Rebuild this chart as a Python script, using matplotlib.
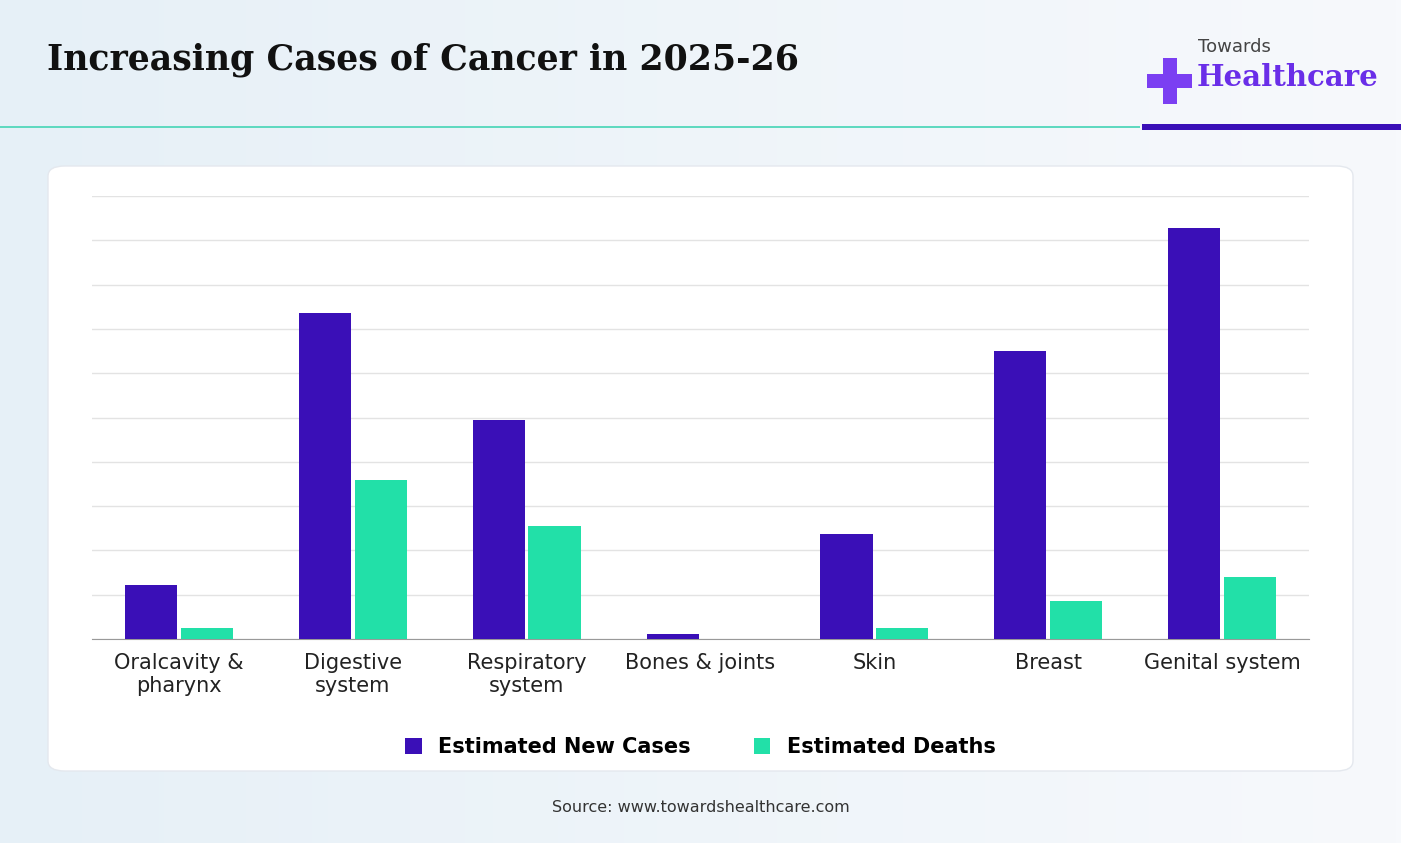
import numpy as np
import matplotlib.pyplot as plt
from matplotlib.patches import FancyBboxPatch, Rectangle

categories = ["Oralcavity &\npharynx", "Digestive\nsystem", "Respiratory\nsystem",
              "Bones & joints", "Skin", "Breast", "Genital system"]
new_cases = [61000, 368000, 247000, 5500, 118500, 325000, 464000]
deaths = [12500, 179500, 127500, 0, 12500, 43000, 70000]

purple = "#3a0fb7"
teal = "#22e0a8"

fig = plt.figure(figsize=(14.01, 8.43), dpi=100)
W, H = 1401, 843

# background
bg = fig.add_axes([0, 0, 1, 1], zorder=-2)
grad = np.linspace(0, 1, 256).reshape(1, -1)
bg.imshow(grad, extent=[0, 1, 0, 1], aspect="auto",
          cmap=plt.matplotlib.colors.LinearSegmentedColormap.from_list("g", ["#e6f0f7", "#f7f9fc"]))
bg.set_xlim(0, 1); bg.set_ylim(0, 1); bg.axis("off")
bg.add_patch(FancyBboxPatch((48 / W, 1 - 771 / H), 1305 / W, 605 / H,
                            boxstyle="round,pad=0,rounding_size=0.012",
                            fc="white", ec="#e4e8ee", lw=1))
bg.add_patch(Rectangle((0, 1 - 128 / H), 1140 / W, 1.5 / H, fc="#5fd9c0", ec="none"))
bg.add_patch(Rectangle((1142 / W, 1 - 130 / H), 259 / W, 6 / H, fc=purple, ec="none"))

fig.text(47 / W, 1 - 60 / H, "Increasing Cases of Cancer in 2025-26", fontsize=25,
         fontweight="bold", family="DejaVu Serif", va="center", color="#111111")
bg.add_patch(Rectangle((1147 / W, 1 - 88 / H), 45 / W, 14 / H, fc="#7b3ff2", ec="none"))
bg.add_patch(Rectangle((1163 / W, 1 - 104 / H), 14 / W, 46 / H, fc="#7b3ff2", ec="none"))
fig.text(1198 / W, 1 - 47 / H, "Towards", fontsize=13, color="#444444", va="center")
fig.text(1197 / W, 1 - 77 / H, "Healthcare", fontsize=21, color="#6a2ee8",
         fontweight="bold", family="DejaVu Serif", va="center")
fig.text(0.5, 1 - 807 / H, "Source: www.towardshealthcare.com", fontsize=11.5,
         color="#333333", ha="center", va="center")

ax = fig.add_axes([92 / W, 1 - 639 / H, 1217 / W, 443 / H])
x = np.arange(len(categories))
w = 0.3
ax.bar(x - 0.16, new_cases, w, color=purple, label="Estimated New Cases", zorder=3)
ax.bar(x + 0.16, deaths, w, color=teal, label="Estimated Deaths", zorder=3)
ax.set_xlim(-0.5, len(categories) - 0.5)
ax.set_ylim(0, 500000)
ax.set_yticks(np.arange(0, 500001, 50000))
ax.yaxis.grid(True, color="#e3e3e3", lw=1)
ax.tick_params(axis="y", length=0, labelleft=False)
ax.tick_params(axis="x", length=0, pad=10)
ax.set_xticks(x)
ax.set_xticklabels(categories, fontsize=15, color="#222222")
for s in ["top", "right", "left"]:
    ax.spines[s].set_visible(False)
ax.spines["bottom"].set_color("#999999")
ax.set_facecolor("none")
ax.legend(loc="upper center", bbox_to_anchor=(0.5, -0.18), ncol=2, frameon=False,
          fontsize=15, handlelength=0.8, handleheight=0.8, columnspacing=3,
          prop={"weight": "bold", "size": 15})

fig.savefig("out.png", dpi=100)
